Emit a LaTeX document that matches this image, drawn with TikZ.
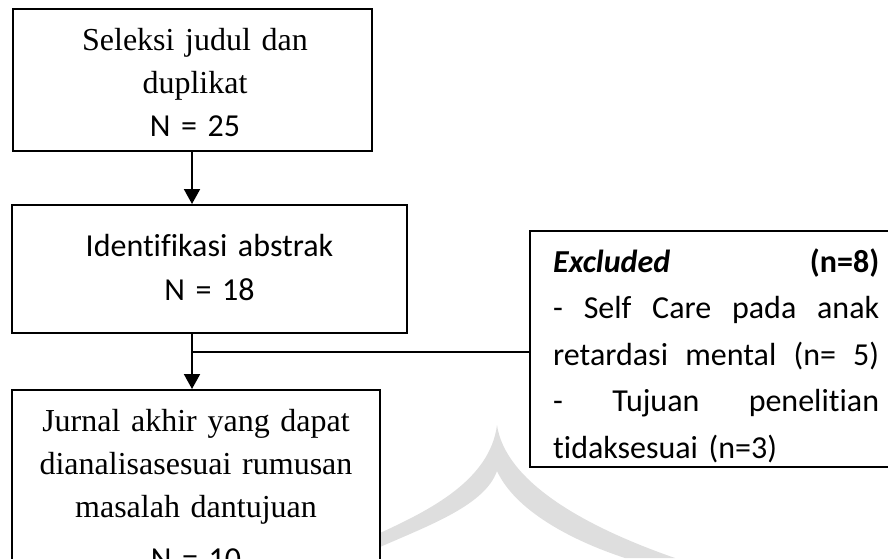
\documentclass[tikz,border=0pt]{standalone}
\usepackage{fontspec}
\setmainfont{Liberation Serif}
\newfontfamily\carlito[Ligatures=NoCommon]{Carlito}
\usetikzlibrary{arrows.meta}
\begin{document}
\begin{tikzpicture}[x=1pt,y=-1pt,
  box/.style={draw, line width=2pt, fill=white, inner sep=0pt},
  flow/.style={line width=2pt, -{Triangle[length=15pt,width=16pt]}},
  branch/.style={line width=1.4pt},
  serifline/.style={font=\fontsize{32}{43}\selectfont, text width=390pt, align=center, inner sep=0pt, anchor=base},
  sansline/.style={font=\carlito\fontsize{32}{44}\selectfont, text width=390pt, align=center, inner sep=0pt, anchor=base},
  extext/.style={font=\carlito\fontsize{32}{46.5}\selectfont, text width=326pt, align=left, inner sep=0pt, anchor=base west},
  wm/.style={fill=black!13}]
\path[use as bounding box] (0,0) rectangle (888,558);
\clip (0,0) rectangle (888,558);
% faint watermark
\fill[wm] (497,425) .. controls (490,480) and (430,510) .. (380,533)
  -- (380,547) .. controls (430,525) and (485,505) .. (497,471)
  .. controls (515,510) and (570,540) .. (625,558) -- (675,558)
  .. controls (580,525) and (505,480) .. cycle;
% boxes
\node[box, minimum width=359pt, minimum height=142pt] (b1) at (192,80) {};
\node[box, minimum width=395pt, minimum height=128pt] (b2) at (209.5,269) {};
\node[box, minimum width=368pt, minimum height=220pt] (b3) at (196,500) {};
\node[box, minimum width=380pt, minimum height=236pt] (ex) at (720,349) {};
% texts
\node[serifline] (t1) at (195,50) {Seleksi judul dan\\duplikat\\{\carlito N = 25}};
\node[sansline] (t2) at (209.5,256) {Identifikasi abstrak\\N = 18};
\node[serifline] (t3) at (196,431) {Jurnal akhir yang dapat\\dianalisasesuai rumusan\\masalah dantujuan\\[9pt]{\carlito N = 10}};
\node[extext] (t4) at (553,272) {\makebox[326pt][s]{\textbf{\textit{Excluded}}\hfill\textbf{(n=8)}}\\
\makebox[326pt][s]{-\hfill Self\hfill Care\hfill pada\hfill anak}\\
\makebox[326pt][s]{retardasi\hfill mental\hfill (n=\hfill 5)}\\
\makebox[326pt][s]{-\hfill Tujuan\hfill penelitian}\\
tidaksesuai (n=3)};
% connectors
\coordinate (j) at (b1.south |- 0,352);
\draw[flow] (b1.south) -- (b1.south |- b2.north);
\draw[flow] (b1.south |- b2.south) -- (b1.south |- b3.north);
\draw[branch] (j) -- (j -| ex.west);
\end{tikzpicture}
\end{document}
